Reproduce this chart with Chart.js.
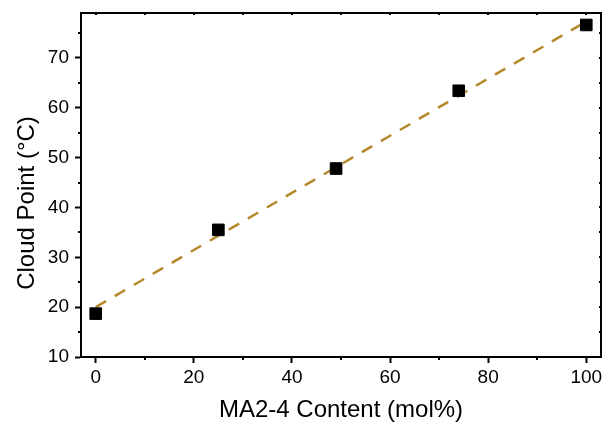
<!DOCTYPE html>
<html>
<head>
<meta charset="utf-8">
<script src="https://cdn.jsdelivr.net/npm/chart.js@4.4.1/dist/chart.umd.min.js"></script>
<style>
    html, body { margin: 0; padding: 0; background: #fff; }
    #wrap { width: 604px; height: 425px; }
</style>
</head>
<body>
<div id="wrap"><canvas id="cloudChart"></canvas></div>
<script>
// measured data
const maContent = [0, 25, 49, 74, 100];
const cloudPoint = [18.7, 35.5, 47.8, 63.4, 76.6];

// linear fit (end points)
const fitX = [0, 100];
const fitY = [20.0, 77.3];

const xTicks = [0, 20, 40, 60, 80, 100];
const yTicks = [10, 20, 30, 40, 50, 60, 70];
const xMinor = [10, 30, 50, 70, 90];
const yMinor = [15, 25, 35, 45, 55, 65, 75];

const xTitle = "MA2-4 Content (mol%)";
const yTitle = "Cloud Point (°C)";

const FONT = "'Liberation Sans', Arial, sans-serif";

// box frame, minor ticks and the y title
const framePlugin = {
    id: "frame",
    afterDraw(chart) {
        const { ctx, chartArea: a, scales } = chart;
        const x = scales.x, y = scales.y;
        ctx.save();
        ctx.strokeStyle = "#000";
        ctx.lineWidth = 2;
        ctx.strokeRect(a.left, a.top, a.right - a.left, a.bottom - a.top);

        ctx.beginPath();
        xMinor.forEach((v) => {
            const px = Math.round(x.getPixelForValue(v));
            ctx.moveTo(px, a.bottom);
            ctx.lineTo(px, a.bottom + 3);
        });
        yMinor.forEach((v) => {
            const py = Math.round(y.getPixelForValue(v));
            ctx.moveTo(a.left, py);
            ctx.lineTo(a.left - 3, py);
        });
        // small inward marks on top and right
        xTicks.concat(xMinor).forEach((v) => {
            const px = Math.round(x.getPixelForValue(v));
            ctx.moveTo(px, a.top);
            ctx.lineTo(px, a.top + 2);
        });
        yTicks.concat(yMinor).forEach((v) => {
            const py = Math.round(y.getPixelForValue(v));
            ctx.moveTo(a.right, py);
            ctx.lineTo(a.right - 2, py);
        });
        ctx.stroke();

        ctx.translate(27, 203);
        ctx.rotate(-Math.PI / 2);
        ctx.fillStyle = "#000";
        ctx.font = "24px " + FONT;
        ctx.textAlign = "center";
        ctx.textBaseline = "middle";
        ctx.fillText(yTitle, 0, 0);
        ctx.restore();
    },
};

const ctx = document.getElementById("cloudChart").getContext("2d");

new Chart(ctx, {
    type: "scatter",
    data: {
        datasets: [
            {
                label: "Cloud point",
                data: maContent.map((v, i) => ({ x: v, y: cloudPoint[i] })),
                pointStyle: "rect",
                pointRadius: 8.2,
                pointBorderWidth: 1,
                backgroundColor: "#000",
                borderColor: "#000",
                order: 0,
            },
            {
                label: "Fit",
                type: "line",
                data: fitX.map((v, i) => ({ x: v, y: fitY[i] })),
                borderColor: "#B5882C",
                borderWidth: 2.5,
                borderDash: [12, 10],
                pointRadius: 0,
                fill: false,
                order: 1,
            },
        ],
    },
    options: {
        responsive: true,
        maintainAspectRatio: false,
        animation: false,
        layout: {
            autoPadding: false,
            padding: { top: 13, right: 3, left: 0, bottom: 0 },
        },
        plugins: {
            legend: { display: false },
            tooltip: { enabled: false },
        },
        scales: {
            x: {
                type: "linear",
                min: -3,
                max: 103,
                afterBuildTicks: (s) => { s.ticks = xTicks.map((v) => ({ value: v })); },
                afterFit: (s) => {
                    s.height = 68;
                    s.paddingLeft = 0;
                    s.paddingRight = 0;
                },
                ticks: {
                    includeBounds: false,
                    color: "#000",
                    padding: 3,
                    maxRotation: 0,
                    font: { family: FONT, size: 19 },
                },
                grid: {
                    drawOnChartArea: false,
                    tickLength: 6,
                    tickWidth: 2,
                    tickColor: "#000",
                },
                border: { color: "#000", width: 2 },
                title: {
                    display: true,
                    text: xTitle,
                    color: "#000",
                    font: { family: FONT, size: 24 },
                    padding: { top: 0, bottom: 0 },
                },
            },
            y: {
                type: "linear",
                min: 10,
                max: 79,
                afterBuildTicks: (s) => { s.ticks = yTicks.map((v) => ({ value: v })); },
                afterFit: (s) => {
                    s.width = 81;
                    s.paddingTop = 0;
                    s.paddingBottom = 0;
                },
                ticks: {
                    includeBounds: false,
                    color: "#000",
                    padding: 6,
                    font: { family: FONT, size: 19 },
                },
                grid: {
                    drawOnChartArea: false,
                    tickLength: 6,
                    tickWidth: 2,
                    tickColor: "#000",
                },
                border: { color: "#000", width: 2 },
            },
        },
    },
    plugins: [framePlugin],
});
</script>
</body>
</html>
